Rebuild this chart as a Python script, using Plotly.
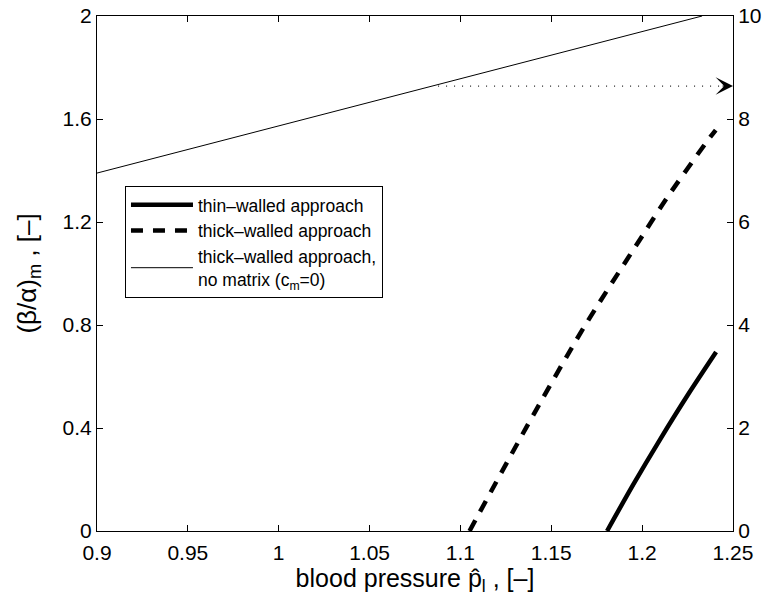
import plotly.graph_objects as go

# --- data ---
x_thin = [1.1807, 1.195, 1.21, 1.225, 1.2407]
y_thin = [0.0, 0.179, 0.357, 0.527, 0.695]

x_thick = [1.105, 1.1365, 1.1676, 1.1998, 1.2135, 1.2356, 1.2405]
y_thick = [0.0, 0.405, 0.787, 1.143, 1.292, 1.512, 1.557]

x_nomatrix = [0.9, 1.0, 1.1, 1.2, 1.233]
y_nomatrix = [6.95, 7.87, 8.78, 9.70, 10.0]   # right axis

x_arrow = [1.0877, 1.25]
y_arrow = [8.64, 8.64]                           # right axis

x_ticks = [0.9, 0.95, 1.0, 1.05, 1.1, 1.15, 1.2, 1.25]
x_ticktext = ["0.9", "0.95", "1", "1.05", "1.1", "1.15", "1.2", "1.25"]
yl_ticks = [0, 0.4, 0.8, 1.2, 1.6, 2]
yl_ticktext = ["0", "0.4", "0.8", "1.2", "1.6", "2"]
yr_ticks = [0, 2, 4, 6, 8, 10]
yr_ticktext = ["0", "2", "4", "6", "8", "10"]

FONT = "Liberation Sans, Arial, Helvetica, sans-serif"

fig = go.Figure()
fig.add_trace(go.Scatter(x=x_thin, y=y_thin, mode="lines",
                         line=dict(color="black", width=4.5, shape="spline", smoothing=0.8),
                         name="thin\u2013walled approach"))
fig.add_trace(go.Scatter(x=x_thick, y=y_thick, mode="lines",
                         line=dict(color="black", width=4.5, dash="12px,10px",
                                   shape="spline", smoothing=0.8),
                         name="thick\u2013walled approach"))
fig.add_trace(go.Scatter(x=x_nomatrix, y=y_nomatrix, mode="lines", yaxis="y2",
                         line=dict(color="black", width=1),
                         name="thick\u2013walled approach,<br>no matrix (c<sub>m</sub>=0)"))
fig.add_trace(go.Scatter(x=x_arrow, y=y_arrow, mode="lines", yaxis="y2",
                         line=dict(color="#222222", width=1.2, dash="1px,7px"),
                         showlegend=False, hoverinfo="skip"))

fig.add_annotation(x=x_arrow[1], y=y_arrow[1], xref="x", yref="y2",
                   ax=-12, ay=0, text="", showarrow=True,
                   arrowhead=3, arrowsize=2.9, arrowwidth=1,
                   arrowcolor="black", standoff=0)

fig.update_layout(
    width=764, height=599,
    margin=dict(l=97, r=31, t=16, b=68),
    paper_bgcolor="white", plot_bgcolor="white",
    font=dict(family=FONT, size=21, color="black"),
    showlegend=True,
    legend=dict(x=0.044, y=0.67, xanchor="left", yanchor="top",
                bordercolor="black", borderwidth=1, bgcolor="white",
                font=dict(size=17.5, family=FONT), itemwidth=62,
                tracegroupgap=0),
    xaxis=dict(range=[0.9, 1.25], tickvals=x_ticks, ticktext=x_ticktext,
               ticks="inside", ticklen=6, tickcolor="black",
               showline=True, linecolor="black", linewidth=1, mirror="ticks",
               showgrid=False, zeroline=False, automargin=False,
               ticklabelstandoff=3,
               title=dict(text="blood pressure p\u0302<sub>l</sub> , [\u2013]",
                          font=dict(size=25), standoff=4)),
    yaxis=dict(range=[0, 2], tickvals=yl_ticks, ticktext=yl_ticktext,
               ticks="inside", ticklen=6, tickcolor="black",
               showline=True, linecolor="black", linewidth=1,
               showgrid=False, zeroline=False, automargin=False,
               title=dict(text="(\u03b2/\u03b1)<sub>m</sub> , [\u2013]",
                          font=dict(size=26), standoff=18)),
    yaxis2=dict(range=[0, 10], tickvals=yr_ticks, ticktext=yr_ticktext,
                overlaying="y", side="right", automargin=False,
                ticks="inside", ticklen=6, tickcolor="black",
                showline=True, linecolor="black", linewidth=1,
                showgrid=False, zeroline=False),
)

fig.write_html("out.html",
               config={"displayModeBar": False},
               post_script="document.body.style.margin='0';document.body.style.overflow='hidden';")
